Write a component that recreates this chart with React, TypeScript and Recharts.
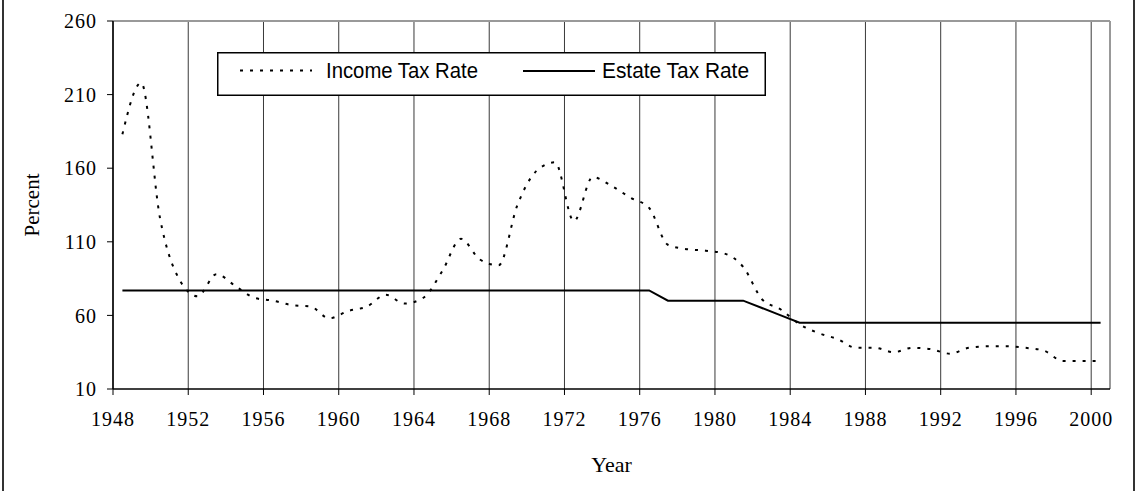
import { CartesianGrid, Legend, Line, LineChart, ReferenceLine, XAxis, YAxis } from 'recharts';

const years = [
  1948, 1949, 1950, 1951, 1952, 1953, 1954, 1955, 1956, 1957, 1958, 1959, 1960, 1961, 1962, 1963, 1964, 1965,
  1966, 1967, 1968, 1969, 1970, 1971, 1972, 1973, 1974, 1975, 1976, 1977, 1978, 1979, 1980, 1981, 1982, 1983,
  1984, 1985, 1986, 1987, 1988, 1989, 1990, 1991, 1992, 1993, 1994, 1995, 1996, 1997, 1998, 1999, 2000,
];

const incomeTaxRate = [
  183, 218, 126, 85, 73, 88, 80, 72, 70, 67, 66, 58, 63, 66, 74, 68, 72, 90,
  112, 98, 94, 135, 158, 164, 124, 154, 148, 140, 133, 108, 105, 104, 102, 93, 71, 64,
  54, 48, 44, 38, 38, 35, 38, 37, 34, 38, 39, 39, 38, 36, 29, 29, 29,
];

const estateTaxRate = [
  77, 77, 77, 77, 77, 77, 77, 77, 77, 77, 77, 77, 77, 77, 77, 77, 77, 77,
  77, 77, 77, 77, 77, 77, 77, 77, 77, 77, 77, 70, 70, 70, 70, 70, 65, 60,
  55, 55, 55, 55, 55, 55, 55, 55, 55, 55, 55, 55, 55, 55, 55, 55, 55,
];

const yearTicks = [1948, 1952, 1956, 1960, 1964, 1968, 1972, 1976, 1980, 1984, 1988, 1992, 1996, 2000];
const percentTicks = [10, 60, 110, 160, 210, 260];

// excel puts each year in the middle of its slot, labels sit on the slot edges
const data = years.map((year, i) => ({
  year: year + 0.5,
  income: incomeTaxRate[i],
  estate: estateTaxRate[i],
}));

const serif = '"Liberation Serif", "Times New Roman", serif';
const sans = '"Liberation Sans", Arial, sans-serif';

const tickStyle = { fontFamily: serif, fontSize: 20, fill: '#000', letterSpacing: 1 };

const LegendBox = () => (
  <svg width={549} height={44} style={{ display: 'block', background: '#fff' }}>
    <rect x={0.75} y={0.75} width={547.5} height={42.5} fill="#fff" stroke="#000" strokeWidth={1.5} />
    <line x1={23} x2={95} y1={18.5} y2={18.5} stroke="#000" strokeWidth={2} strokeDasharray="3 7" />
    <text x={109} y={26.3} fontFamily={sans} fontSize={22} textLength={152} lengthAdjust="spacingAndGlyphs" fill="#000">
      Income Tax Rate
    </text>
    <line x1={306} x2={378} y1={19} y2={19} stroke="#000" strokeWidth={2} />
    <text x={385} y={26.3} fontFamily={sans} fontSize={22} textLength={147} lengthAdjust="spacingAndGlyphs" fill="#000">
      Estate Tax Rate
    </text>
  </svg>
);

export default function App() {
  return (
    <div style={{ position: 'relative', width: 1136, height: 491, background: '#fff', overflow: 'hidden' }}>
      <style>{'body{margin:0}'}</style>
      <div
        style={{
          position: 'absolute',
          left: 2,
          top: 0,
          width: 1133,
          height: 491,
          boxSizing: 'border-box',
          borderLeft: '2px solid #333',
          borderRight: '2px solid #333',
        }}
      />
      <LineChart width={1136} height={491} data={data} margin={{ top: 21, right: 26, bottom: 0, left: 0 }}>
        <CartesianGrid horizontal={false} stroke="#3a3a3a" strokeWidth={1} />
        <ReferenceLine y={260} stroke="#999" strokeWidth={2} />
        <ReferenceLine x={2001} stroke="#999" strokeWidth={2} />
        <XAxis
          dataKey="year"
          type="number"
          domain={[1948, 2001]}
          ticks={yearTicks}
          interval={0}
          height={102}
          tickSize={6}
          tickMargin={17}
          tick={tickStyle}
          axisLine={{ stroke: '#000', strokeWidth: 1.5 }}
          tickLine={{ stroke: '#000' }}
          label={{ value: 'Year', position: 'insideTop', offset: 67, fontFamily: serif, fontSize: 22, fill: '#000' }}
        />
        <YAxis
          type="number"
          domain={[10, 260]}
          ticks={percentTicks}
          interval={0}
          width={113}
          tickSize={6}
          tickMargin={10}
          tick={tickStyle}
          axisLine={{ stroke: '#000', strokeWidth: 1.5 }}
          tickLine={{ stroke: '#000' }}
          label={{
            value: 'Percent',
            angle: -90,
            position: 'insideLeft',
            offset: 32,
            fontFamily: serif,
            fontSize: 21,
            fill: '#000',
            style: { textAnchor: 'middle' },
          }}
        />
        <Line
          dataKey="income"
          type="monotone"
          stroke="#000"
          strokeWidth={2}
          strokeDasharray="3 7"
          dot={false}
          isAnimationActive={false}
        />
        <Line dataKey="estate" type="linear" stroke="#000" strokeWidth={2} dot={false} isAnimationActive={false} />
        <Legend
          layout="horizontal"
          verticalAlign="middle"
          align="center"
          content={() => <LegendBox />}
          wrapperStyle={{ left: 217, top: 52, width: 549, height: 44 }}
        />
      </LineChart>
    </div>
  );
}
